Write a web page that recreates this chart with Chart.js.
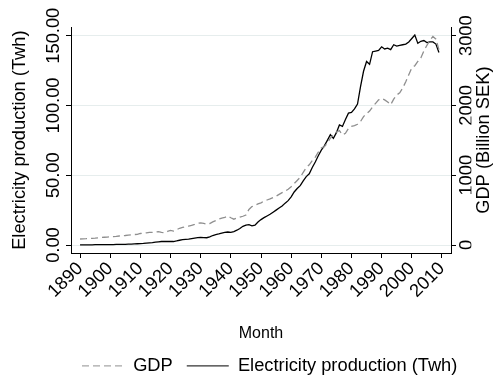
<!DOCTYPE html>
<html><head><meta charset="utf-8">
<script src="https://cdn.jsdelivr.net/npm/chart.js@4"></script>
<style>html,body{margin:0;padding:0;background:#fff;}</style>
</head><body>
<canvas id="c" width="494" height="375" style="width:494px;height:375px;display:block"></canvas>
<script>
const years = [1890,1891,1892,1893,1894,1895,1896,1897,1898,1899,
1900,1901,1902,1903,1904,1905,1906,1907,1908,1909,
1910,1911,1912,1913,1914,1915,1916,1917,1918,1919,
1920,1921,1922,1923,1924,1925,1926,1927,1928,1929,
1930,1931,1932,1933,1934,1935,1936,1937,1938,1939,
1940,1941,1942,1943,1944,1945,1946,1947,1948,1949,
1950,1951,1952,1953,1954,1955,1956,1957,1958,1959,
1960,1961,1962,1963,1964,1965,1966,1967,1968,1969,
1970,1971,1972,1973,1974,1975,1976,1977,1978,1979,
1980,1981,1982,1983,1984,1985,1986,1987,1988,1989,
1990,1991,1992,1993,1994,1995,1996,1997,1998,1999,
2000,2001,2002,2003,2004,2005,2006,2007,2008,2009];

const gdp = [86,88,90,93,96,99,103,107,111,114,
118,120,123,129,133,136,143,147,150,153,
165,168,175,182,180,186,192,180,176,195,
210,200,218,240,252,262,272,283,295,312,
318,310,300,308,332,350,370,385,395,415,
390,370,385,400,412,430,510,550,570,588,
605,630,645,660,680,700,725,750,770,800,
835,880,925,970,1040,1110,1150,1210,1260,1330,
1390,1410,1460,1530,1580,1620,1640,1580,1600,1670,
1700,1710,1730,1770,1840,1880,1920,1980,2030,2080,
2100,2080,2050,2010,2090,2150,2180,2250,2340,2440,
2540,2570,2630,2680,2780,2860,2930,2990,2950,2800];

const electricity = [0.1,0.1,0.1,0.1,0.1,0.2,0.2,0.2,0.2,0.3,
0.3,0.3,0.4,0.4,0.5,0.5,0.6,0.7,0.8,0.9,
1.0,1.1,1.3,1.5,1.7,2.0,2.3,2.5,2.6,2.5,
2.6,2.5,2.9,3.4,3.8,4.0,4.2,4.6,5.0,5.3,
5.4,5.3,5.2,5.8,6.8,7.4,7.9,8.5,9.0,9.3,
9.1,9.6,10.6,11.8,13.4,14.3,14.6,13.7,14.2,16.5,
18.2,19.6,20.8,22.0,23.5,25.0,26.5,28.0,30.0,31.8,
34.5,38.0,40.5,42.5,46.0,49.0,51.0,55.5,59.5,64.0,
68.0,71.0,75.0,79.0,76.5,80.5,86.0,85.0,90.0,94.5,
95.0,97.5,101.0,113.5,124.5,131.5,129.5,138.5,139.0,139.5,
142.0,140.5,141.0,140.0,143.5,142.5,143.0,143.5,144.0,145.5,
148.0,150.5,144.5,146.0,146.5,145.0,145.5,145.5,144.0,138.0];

const xTickValues = [1890,1900,1910,1920,1930,1940,1950,1960,1970,1980,1990,2000,2010];
const leftTickValues = [0,50,100,150];
const rightTickValues = [0,1000,2000,3000];
const seriesLabels = ['GDP','Electricity production (Twh)'];
const xTitle = 'Month';
const leftTitle = 'Electricity production (Twh)';
const rightTitle = 'GDP (Billion SEK)';

const FONT = "'Liberation Sans', Arial, Helvetica, sans-serif";
const FS = 18.3;
const FS_X = 16;
const mctx = document.createElement('canvas').getContext('2d');
function tw(t, s){ mctx.font = 'normal ' + s + 'px ' + FONT; return mctx.measureText(t).width; }

const PLOT_L = 71, PLOT_R = 451, PLOT_T = 27.3, PLOT_B = 253;
const LEG_P = 14, LEG_BOX = 42, LEG_START = 82;
const padL = PLOT_L - 5 - 53.7 - tw('150.00', FS) / 2;
const padR = 467 - PLOT_R - 5 - tw('3000', FS) / 2;
const itemW = t => LEG_BOX + FS / 2 + tw(t, FS);
const lineW = itemW(seriesLabels[0]) + LEG_P + itemW(seriesLabels[1]) + LEG_P;
const RPAD = 494 - LEG_START - lineW;
const legendH = FS + LEG_P + 10;
const BPAD = -10;
const xScaleH = (375 - BPAD - legendH) - PLOT_B;

Chart.defaults.font.family = FONT;
Chart.defaults.color = '#000';

const rightTitlePlugin = {
  id: 'rightTitle',
  afterDraw(chart) {
    const ctx = chart.ctx, a = chart.chartArea;
    ctx.save();
    ctx.font = 'normal ' + FS + 'px ' + FONT;
    ctx.fillStyle = '#000';
    ctx.textAlign = 'center';
    ctx.textBaseline = 'middle';
    ctx.translate(a.right + 33.1, (a.top + a.bottom) / 2);
    ctx.rotate(-Math.PI / 2);
    ctx.fillText(rightTitle, 0, 0);
    ctx.restore();
  }
};

const legendColors = ['#a6a6a6', '#333333'];

new Chart(document.getElementById('c'), {
  type: 'line',
  data: {
    datasets: [
      { label: seriesLabels[0], data: years.map((y, i) => ({x: y, y: gdp[i]})), yAxisID: 'y2',
        borderColor: '#8f8f8f', borderWidth: 1.3, borderDash: [7, 4], pointRadius: 0, tension: 0, fill: false },
      { label: seriesLabels[1], data: years.map((y, i) => ({x: y, y: electricity[i]})), yAxisID: 'y',
        borderColor: '#000', borderWidth: 1.3, pointRadius: 0, tension: 0, fill: false }
    ]
  },
  options: {
    responsive: false, animation: false, devicePixelRatio: 1,
    layout: { padding: { top: PLOT_T, bottom: BPAD, left: 0, right: RPAD } },
    plugins: {
      tooltip: { enabled: false },
      legend: {
        position: 'bottom', align: 'end',
        labels: {
          usePointStyle: true, pointStyle: 'line', pointStyleWidth: LEG_BOX, padding: LEG_P,
          font: { size: FS }, color: '#000',
          generateLabels: chart => {
            const items = Chart.defaults.plugins.legend.labels.generateLabels(chart);
            return items.map((it, i) => {
              const ds = chart.data.datasets[it.datasetIndex];
              return Object.assign(it, {
                lineDash: ds.borderDash || [], lineWidth: 1.3,
                strokeStyle: legendColors[i], fillStyle: legendColors[i], pointStyle: 'line'
              });
            });
          }
        }
      }
    },
    scales: {
      x: {
        type: 'linear', min: 1887, max: 2013,
        afterBuildTicks: s => { s.ticks = xTickValues.map(v => ({value: v})); },
        ticks: { autoSkip: false, minRotation: 45, maxRotation: 45, padding: 0, font: { size: FS }, color: '#000',
                 callback: v => String(v) },
        grid: { drawOnChartArea: false, drawTicks: true, tickLength: 5, tickColor: '#000', tickWidth: 1 },
        border: { display: true, color: '#000', width: 1 },
        title: { display: true, text: xTitle, font: { size: FS_X }, color: '#000', padding: { top: 0, bottom: 0 } },
        afterFit: s => { s.height = xScaleH; }
      },
      y: {
        type: 'linear', position: 'left', min: -5.73, max: 156.0,
        afterBuildTicks: s => { s.ticks = leftTickValues.map(v => ({value: v})); },
        ticks: { minRotation: 90, maxRotation: 90, crossAlign: 'center', padding: padL, font: { size: FS }, color: '#000',
                 callback: v => Number(v).toFixed(2) },
        grid: { color: '#e6eded', lineWidth: 1, drawTicks: true, tickLength: 5, tickColor: '#000', tickWidth: 1 },
        border: { display: true, color: '#000', width: 1 },
        title: { display: true, text: leftTitle, font: { size: FS }, color: '#000', padding: { top: 9.2, bottom: 0 } },
        afterFit: s => { s.width = PLOT_L; }
      },
      y2: {
        type: 'linear', position: 'right', min: -114.6, max: 3120,
        afterBuildTicks: s => { s.ticks = rightTickValues.map(v => ({value: v})); },
        ticks: { minRotation: 90, maxRotation: 90, crossAlign: 'center', padding: padR, font: { size: FS }, color: '#000',
                 callback: v => String(v) },
        grid: { drawOnChartArea: false, drawTicks: true, tickLength: 5, tickColor: '#000', tickWidth: 1 },
        border: { display: true, color: '#000', width: 1 },
        afterFit: s => { s.width = 494 - RPAD - PLOT_R; }
      }
    }
  },
  plugins: [rightTitlePlugin]
});
</script>
</body></html>
